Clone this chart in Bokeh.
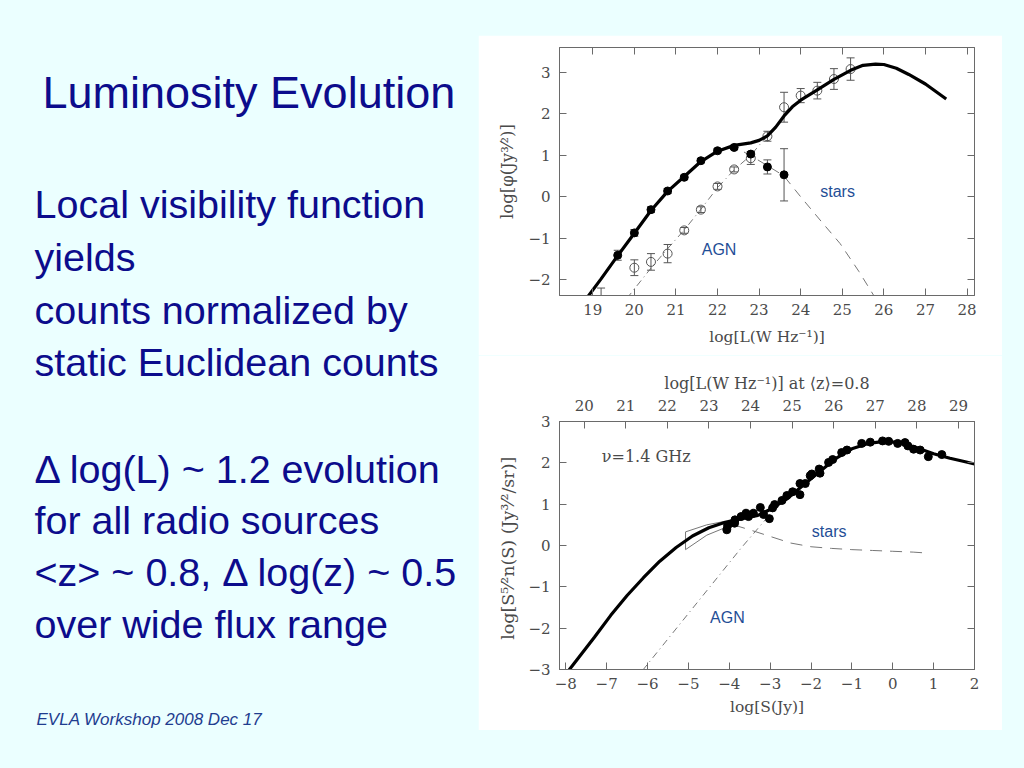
import numpy as np
from bokeh.plotting import figure
from bokeh.models import Range1d, LinearAxis, FixedTicker, Spacer, GlobalInlineStyleSheet
from bokeh.layouts import row, column
from bokeh.embed import file_html
from bokeh.resources import INLINE
from bokeh.core.properties import value

# ---------------- colours / fonts ----------------
BG = "#EBFFFF"
NAVY = "#0C0C8C"
FOOT = "#1F3D8F"
LBLUE = "#1F4E96"
INK = "#4a4a4a"
FRAME = "#6a6a6a"
GREY = "#777777"
SERIF = "DejaVu Serif"
SANS = "Liberation Sans"
BASE_SHIFT = 0.34   # em correction for the svg alphabetic baseline

# ---------------- slide text ----------------
title_text = "Luminosity Evolution"
body_lines = ["Local visibility function", "yields", "counts normalized by",
              "static Euclidean counts", "Δ log(L) ~ 1.2 evolution",
              "for all radio sources", "<z> ~ 0.8, Δ log(z) ~ 0.5",
              "over wide flux range"]
body_baselines = [217, 270, 323, 375, 482, 533, 585, 637]
footer_text = "EVLA Workshop 2008 Dec 17"

# ---------------- top panel: local visibility function ----------------
top_xticks = [19, 20, 21, 22, 23, 24, 25, 26, 27, 28]
top_yticks = [-2, -1, 0, 1, 2, 3]
total_x = [18.85, 19.2, 19.6, 20.0, 20.4, 20.8, 21.2, 21.6, 22.0, 22.4, 22.8, 23.0,
           23.2, 23.4, 23.6, 23.8, 24.0, 24.4, 24.8, 25.2, 25.5, 25.8, 26.0, 26.3,
           26.6, 27.0, 27.5]
total_y = [-2.45, -1.98, -1.42, -0.88, -0.33, 0.13, 0.49, 0.85, 1.10, 1.24, 1.30, 1.36,
           1.47, 1.68, 1.95, 2.17, 2.33, 2.58, 2.83, 3.05, 3.17, 3.20, 3.19, 3.10,
           2.95, 2.72, 2.36]
stars_x = [21.9, 22.2, 22.4, 22.6, 22.87, 23.2, 23.59, 24.0, 24.5, 24.95, 25.4, 25.8]
stars_y = [1.06, 1.16, 1.17, 1.10, 0.95, 0.75, 0.51, 0.00, -0.60, -1.13, -1.80, -2.45]
agn_line_x = [19.82, 20.4, 20.8, 21.2, 21.6, 22.0, 22.4, 22.8, 23.2, 23.4]
agn_line_y = [-2.45, -1.72, -1.25, -0.80, -0.30, 0.22, 0.65, 1.00, 1.48, 1.68]
sf_pts_x = [19.6, 20.0, 20.4, 20.8, 21.2, 21.6, 22.0, 22.4, 22.8, 23.2, 23.6]
sf_pts_y = [-1.41, -0.87, -0.31, 0.14, 0.47, 0.87, 1.11, 1.19, 1.03, 0.72, 0.53]
sf_pts_err = [0.12, 0.08, 0.07, 0.06, 0.05, 0.05, 0.05, 0.05, 0.06, 0.17, 0.63]
agn_pts_x = [19.2, 20.0, 20.4, 20.8, 21.2, 21.6, 22.0, 22.4, 22.8, 23.2, 23.6, 24.0,
             24.4, 24.8, 25.2]
agn_pts_y = [-2.55, -1.71, -1.57, -1.37, -0.81, -0.31, 0.25, 0.66, 0.93, 1.46, 2.16,
             2.44, 2.56, 2.84, 3.08]
agn_pts_err = [0.35, 0.19, 0.20, 0.22, 0.07, 0.07, 0.07, 0.06, 0.15, 0.12, 0.36, 0.17,
               0.20, 0.25, 0.27]

# ---------------- bottom panel: normalized source counts ----------------
bot_xticks = [-8, -7, -6, -5, -4, -3, -2, -1, 0, 1, 2]
bot_yticks = [-3, -2, -1, 0, 1, 2, 3]
bot_lticks = [20, 21, 22, 23, 24, 25, 26, 27, 28, 29]
cnt_x = [-7.95, -7.3, -6.9, -6.5, -6.1, -5.7, -5.3, -4.9, -4.5, -4.1, -3.7, -3.3, -3.0,
         -2.6, -2.2, -1.8, -1.4, -1.0, -0.6, -0.2, 0.2, 0.6, 1.0, 1.4, 1.8, 2.0]
cnt_y = [-3.05, -2.22, -1.69, -1.21, -0.78, -0.38, -0.05, 0.23, 0.43, 0.56, 0.65, 0.73,
         0.87, 1.12, 1.45, 1.78, 2.10, 2.34, 2.47, 2.52, 2.49, 2.36, 2.22, 2.11, 2.02, 1.97]
cnt_stars_x = [-3.9, -3.5, -3.0, -2.5, -2.0, -1.5, -1.0, -0.5, 0.0, 0.5, 0.8]
cnt_stars_y = [0.50, 0.38, 0.22, 0.06, -0.03, -0.07, -0.10, -0.12, -0.14, -0.16, -0.18]
cnt_agn_x = [-6.12, -3.7, -3.05]
cnt_agn_y = [-3.02, -0.05, 0.70]
pd_box_x = [-5.07, -5.07, -4.55, -4.13, -4.13, -4.55]
pd_box_y = [0.33, -0.10, 0.25, 0.42, 0.58, 0.50]
dots_x = [-4.06, -4.04, -3.87, -3.86, -3.71, -3.59, -3.53, -3.41, -3.24, -3.16, -3.02,
          -2.94, -2.89, -2.71, -2.59, -2.45, -2.27, -2.27, -2.14, -2.02, -1.98, -1.80,
          -1.78, -1.57, -1.47, -1.25, -1.12, -0.76, -0.55, -0.25, -0.10, 0.12, 0.30,
          0.37, 0.51, 0.67, 0.87, 1.20]
dots_y = [0.38, 0.48, 0.54, 0.62, 0.70, 0.78, 0.70, 0.78, 0.92, 0.75, 0.65, 0.91, 0.99,
          1.09, 1.21, 1.30, 1.50, 1.23, 1.50, 1.69, 1.73, 1.85, 1.75, 2.01, 2.08, 2.25,
          2.31, 2.47, 2.50, 2.53, 2.52, 2.47, 2.49, 2.41, 2.33, 2.31, 2.15, 2.20]


def minus(t):
    return ("−%d" % -t) if t < 0 else "%d" % t


def style_axis(ax, ticks, show_labels=True, label_size="15px"):
    ax.ticker = FixedTicker(ticks=ticks)
    ax.major_tick_in = 7
    ax.major_tick_out = 0
    ax.minor_tick_line_color = None
    ax.major_tick_line_color = FRAME
    ax.axis_line_color = FRAME
    ax.major_label_text_font = SERIF
    ax.major_label_text_color = INK
    ax.axis_label_text_font = SERIF
    ax.axis_label_text_font_style = "normal"
    ax.axis_label_text_font_size = label_size
    ax.axis_label_text_color = INK
    if show_labels:
        ax.major_label_text_font_size = "15px"
        ax.major_label_overrides = {t: minus(t) for t in ticks}
    else:
        ax.major_label_text_font_size = "2px"
        ax.major_label_overrides = {t: "" for t in ticks}
        ax.major_label_standoff = 0


def errbars(p, xs, ys, errs, color):
    lo = [y - e for y, e in zip(ys, errs)]
    hi = [y + e for y, e in zip(ys, errs)]
    p.segment(xs, lo, xs, hi, line_color=color, line_width=1)
    p.scatter(xs, lo, marker="dash", size=8, line_color=color, line_width=1)
    p.scatter(xs, hi, marker="dash", size=8, line_color=color, line_width=1)


def base_fig(w, h, xr, yr, top, bottom):
    p = figure(width=w, height=h, x_range=xr, y_range=yr, output_backend="svg",
               toolbar_location=None, min_border_left=81, min_border_right=28,
               min_border_top=top, min_border_bottom=bottom,
               background_fill_color="white", border_fill_color="white")
    p.grid.visible = False
    p.outline_line_color = FRAME
    p.outline_line_width = 1
    return p


def label(p, x, y, txt, font, size, color, px_per_unit):
    # y is the wanted baseline; shift for the svg baseline offset
    p.text(x=[x], y=[y + BASE_SHIFT * size / px_per_unit], text=[txt],
           text_font=value(font), text_font_size="%gpx" % size, text_color=color,
           text_baseline="alphabetic")


# ---------------- left text panel (screen-like coordinates) ----------------
left = figure(width=478, height=760, x_range=Range1d(0, 478), y_range=Range1d(760, 0),
              output_backend="svg", toolbar_location=None, min_border=0,
              background_fill_color=BG, border_fill_color=BG)
left.axis.visible = False
left.grid.visible = False
left.outline_line_color = None
left.text(x=[42], y=[107 - BASE_SHIFT * 45], text=[title_text], text_font=value(SANS),
          text_font_size="45px", text_color=NAVY, text_baseline="alphabetic")
left.text(x=[34] * len(body_lines), y=[b - BASE_SHIFT * 39.5 for b in body_baselines],
          text=body_lines, text_font=value(SANS), text_font_size="39.5px",
          text_color=NAVY, text_baseline="alphabetic")
left.text(x=[36], y=[725 - BASE_SHIFT * 17], text=[footer_text], text_font=value(SANS),
          text_font_style="italic", text_font_size="17px", text_color=FOOT,
          text_baseline="alphabetic")

# ---------------- top plot ----------------
p1 = base_fig(524, 320, Range1d(18.2, 28.18), Range1d(-2.38, 3.6), 12, 60)
p1.xaxis.axis_label = "log[L(W Hz⁻¹)]"
p1.yaxis.axis_label = "log[φ(Jy³⁄²)]"
style_axis(p1.xaxis[0], top_xticks, label_size="15.5px")
style_axis(p1.yaxis[0], top_yticks, label_size="16.5px")
p1.xaxis.major_label_standoff = 8
p1.xaxis.axis_label_standoff = 10
p1.yaxis.major_label_standoff = 9
p1.yaxis.axis_label_standoff = 8
ax_r = LinearAxis()
style_axis(ax_r, top_yticks, False)
p1.add_layout(ax_r, "right")
ax_t = LinearAxis()
style_axis(ax_t, top_xticks, False)
p1.add_layout(ax_t, "above")

p1.line(agn_line_x, agn_line_y, line_color=GREY, line_width=1, line_dash="7 4 1 4")
p1.line(stars_x, stars_y, line_color=GREY, line_width=1, line_dash="9 7")
errbars(p1, agn_pts_x, agn_pts_y, agn_pts_err, "#555555")
errbars(p1, sf_pts_x, sf_pts_y, sf_pts_err, "#555555")
p1.scatter(agn_pts_x, agn_pts_y, marker="circle", size=9, fill_color=None,
           line_color="#555555", line_width=1)
p1.line(total_x, total_y, line_color="black", line_width=3.2)
p1.scatter(sf_pts_x, sf_pts_y, marker="circle", size=8, fill_color="black",
           line_color="black")
label(p1, 24.47, -0.01, "stars", SANS, 16, LBLUE, 41.5)
label(p1, 21.62, -1.40, "AGN", SANS, 16, LBLUE, 41.5)

# ---------------- bottom plot ----------------
p2 = base_fig(524, 375, Range1d(-8.154, 2.0), Range1d(-3, 3), 66, 61)
p2.extra_x_ranges = {"L": Range1d(19.406, 29.385)}
p2.xaxis.axis_label = "log[S(Jy)]"
p2.yaxis.axis_label = "log[S⁵⁄²n(S)  (Jy³⁄²/sr)]"
style_axis(p2.xaxis[0], bot_xticks, label_size="15.5px")
style_axis(p2.yaxis[0], bot_yticks, label_size="17.5px")
p2.xaxis.major_label_standoff = 8
p2.xaxis.axis_label_standoff = 6
p2.yaxis.major_label_standoff = 9
p2.yaxis.axis_label_standoff = 7
ax_r2 = LinearAxis()
style_axis(ax_r2, bot_yticks, False)
p2.add_layout(ax_r2, "right")
ax_t2 = LinearAxis(x_range_name="L", axis_label="log[L(W Hz⁻¹)] at ⟨z⟩=0.8")
style_axis(ax_t2, bot_lticks, label_size="16px")
ax_t2.major_label_standoff = 11
ax_t2.axis_label_standoff = 4
p2.add_layout(ax_t2, "above")

p2.line(cnt_agn_x, cnt_agn_y, line_color=GREY, line_width=1, line_dash="7 4 1 4")
p2.line(cnt_stars_x, cnt_stars_y, line_color=GREY, line_width=1, line_dash="12 8")
p2.patch(pd_box_x, pd_box_y, fill_color=None, line_color="#777777", line_width=1)
p2.line(cnt_x, cnt_y, line_color="black", line_width=3.2)
p2.scatter(dots_x, dots_y, marker="circle", size=8, fill_color="black",
           line_color="black")
label(p2, -7.12, 2.01, "ν=1.4  GHz", SERIF, 16, INK, 41.43)
label(p2, -1.98, 0.20, "stars", SANS, 16, LBLUE, 41.43)
label(p2, -4.47, -1.87, "AGN", SANS, 16, LBLUE, 41.43)

right = column(Spacer(width=524, height=35), p1, p2)
layout = row(left, right)
layout.stylesheets = [GlobalInlineStyleSheet(
    css="html, body { background-color: #EBFFFF; margin: 0; padding: 0; }")]

open("out.html", "w").write(file_html(layout, INLINE))
